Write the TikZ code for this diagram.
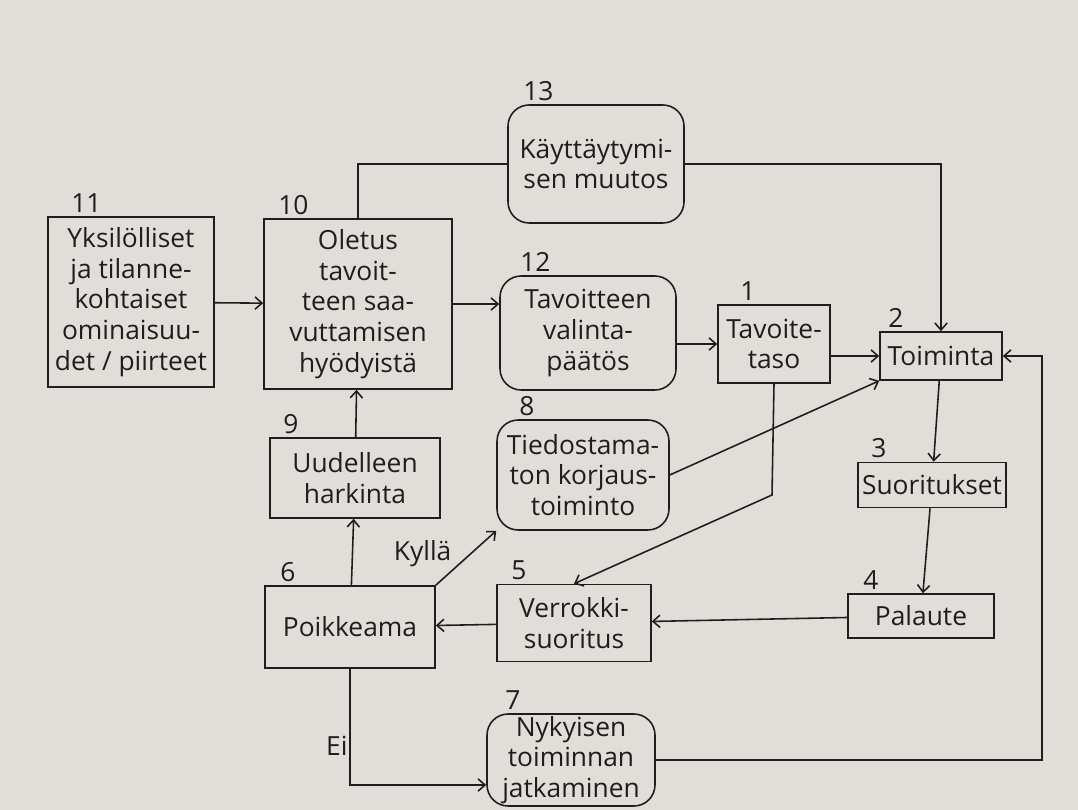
\documentclass[tikz,border=0pt]{standalone}
\usepackage{fontspec}
\setmainfont{Open Sans}
\usetikzlibrary{arrows.meta,positioning}
\definecolor{paper}{RGB}{224,222,216}
\definecolor{ink}{RGB}{32,30,29}

\begin{document}
\begin{tikzpicture}[x=0.02cm, y=0.02cm,
  box/.style={draw=ink, line width=0.9pt, text=ink, align=center, inner sep=0pt, font=\fontsize{15}{17.5}\selectfont},
  rbox/.style={box, rounded corners=12pt},
  num/.style={text=ink, inner sep=1pt, font=\fontsize{15}{17.5}\selectfont},
  conn/.style={draw=ink, line width=0.9pt},
  arr/.style={conn, -{Straight Barb[length=4pt,width=7pt]}}]
% --- PAPER ---
  \fill[paper] (0,0) rectangle (1078,-810);
  \useasboundingbox (0,0) rectangle (1078,-810);

% --- BOXES ---
  \node[box, minimum width=3.32cm, minimum height=3.40cm] (n11) at (131,-302) {Yksilölliset\\ja tilanne-\\kohtaiset\\ominaisuu-\\det / piirteet};
  \node[box, minimum width=3.76cm, minimum height=3.40cm] (n10) at (358,-304) {Oletus\\tavoit-\\teen saa-\\vuttamisen\\hyödyistä};
  \node[rbox, minimum width=3.52cm, minimum height=2.36cm] (n13) at (596,-164) {Käyttäytymi-\\sen muutos};
  \node[rbox, minimum width=3.52cm, minimum height=2.28cm] (n12) at (588,-333) {Tavoitteen\\valinta-\\päätös};
  \node[box, minimum width=2.24cm, minimum height=1.56cm] (n1) at (774,-344) {Tavoite-\\taso};
  \node[box, minimum width=2.44cm, minimum height=0.96cm] (n2) at (941,-356) {Toiminta};
  \node[box, minimum width=3.40cm, minimum height=1.60cm] (n9) at (355,-478) {Uudelleen\\harkinta};
  \node[rbox, minimum width=3.44cm, minimum height=2.20cm] (n8) at (583,-475) {Tiedostama-\\ton korjaus-\\toiminto};
  \node[box, minimum width=2.96cm, minimum height=0.90cm] (n3) at (932,-485) {Suoritukset};
  \node[box, minimum width=3.40cm, minimum height=1.64cm] (n6) at (350,-627) {Poikkeama};
  \node[box, minimum width=3.08cm, minimum height=1.54cm] (n5) at (574,-623) {Verrokki-\\suoritus};
  \node[box, minimum width=2.92cm, minimum height=0.88cm] (n4) at (921,-616) {Palaute};
  \node[rbox, minimum width=3.36cm, minimum height=1.84cm] (n7) at (571,-760) {Nykyisen\\toiminnan\\jatkaminen};

  % numbers
  \foreach \n/\dx in {11/0.44, 10/0.26, 13/0.28, 12/0.38, 1/0.42, 2/0.14, 9/0.24, 8/0.42, 3/0.24, 6/0.28, 5/0.26, 4/0.28, 7/0.34} {
    \node[num, above right=1pt and \dx cm of n\n.north west] (l\n) {\n};
  }

% --- ARROWS ---
  \foreach \a/\b in {n11/n10, n2/n3, n3/n4, n4/n5, n5/n6, n6/n9, n9/n10} {
    \draw[arr] (\a) -- (\b);
  }
  \draw[arr] (n10.east) -- (n10.east -| n12.west);
  \draw[arr] (n1.west -| n12.east) -- (n1.west);
  \draw[arr] (n2.west -| n1.east) -- (n2.west);

  % behaviour change
  \draw[conn] (n10.north) |- (n13.west);
  \draw[arr] (n13.east) -| (n2.north);

  % correction and comparison
  \draw[arr] (n6.north east) -- (n8.south west) node[num, pos=0.3, above left] (kylla) {Kyllä};
  \draw[arr] (n8.east) -- (n2.south west);
  \coordinate (c15) at (772,-495);
  \draw[arr] (n1.south) -- (c15) -- (n5.north);

  % no deviation
  \draw[arr] (n6.south) |- ([yshift=-0.5cm]n7.west) node[num, pos=0.33, left] (ei) {Ei};
  \coordinate (rx) at (1042,-760);
  \draw[arr] (n7.east) -- (n7.east -| rx) -- (rx |- n2.east) -- (n2.east);
\end{tikzpicture}
\end{document}
